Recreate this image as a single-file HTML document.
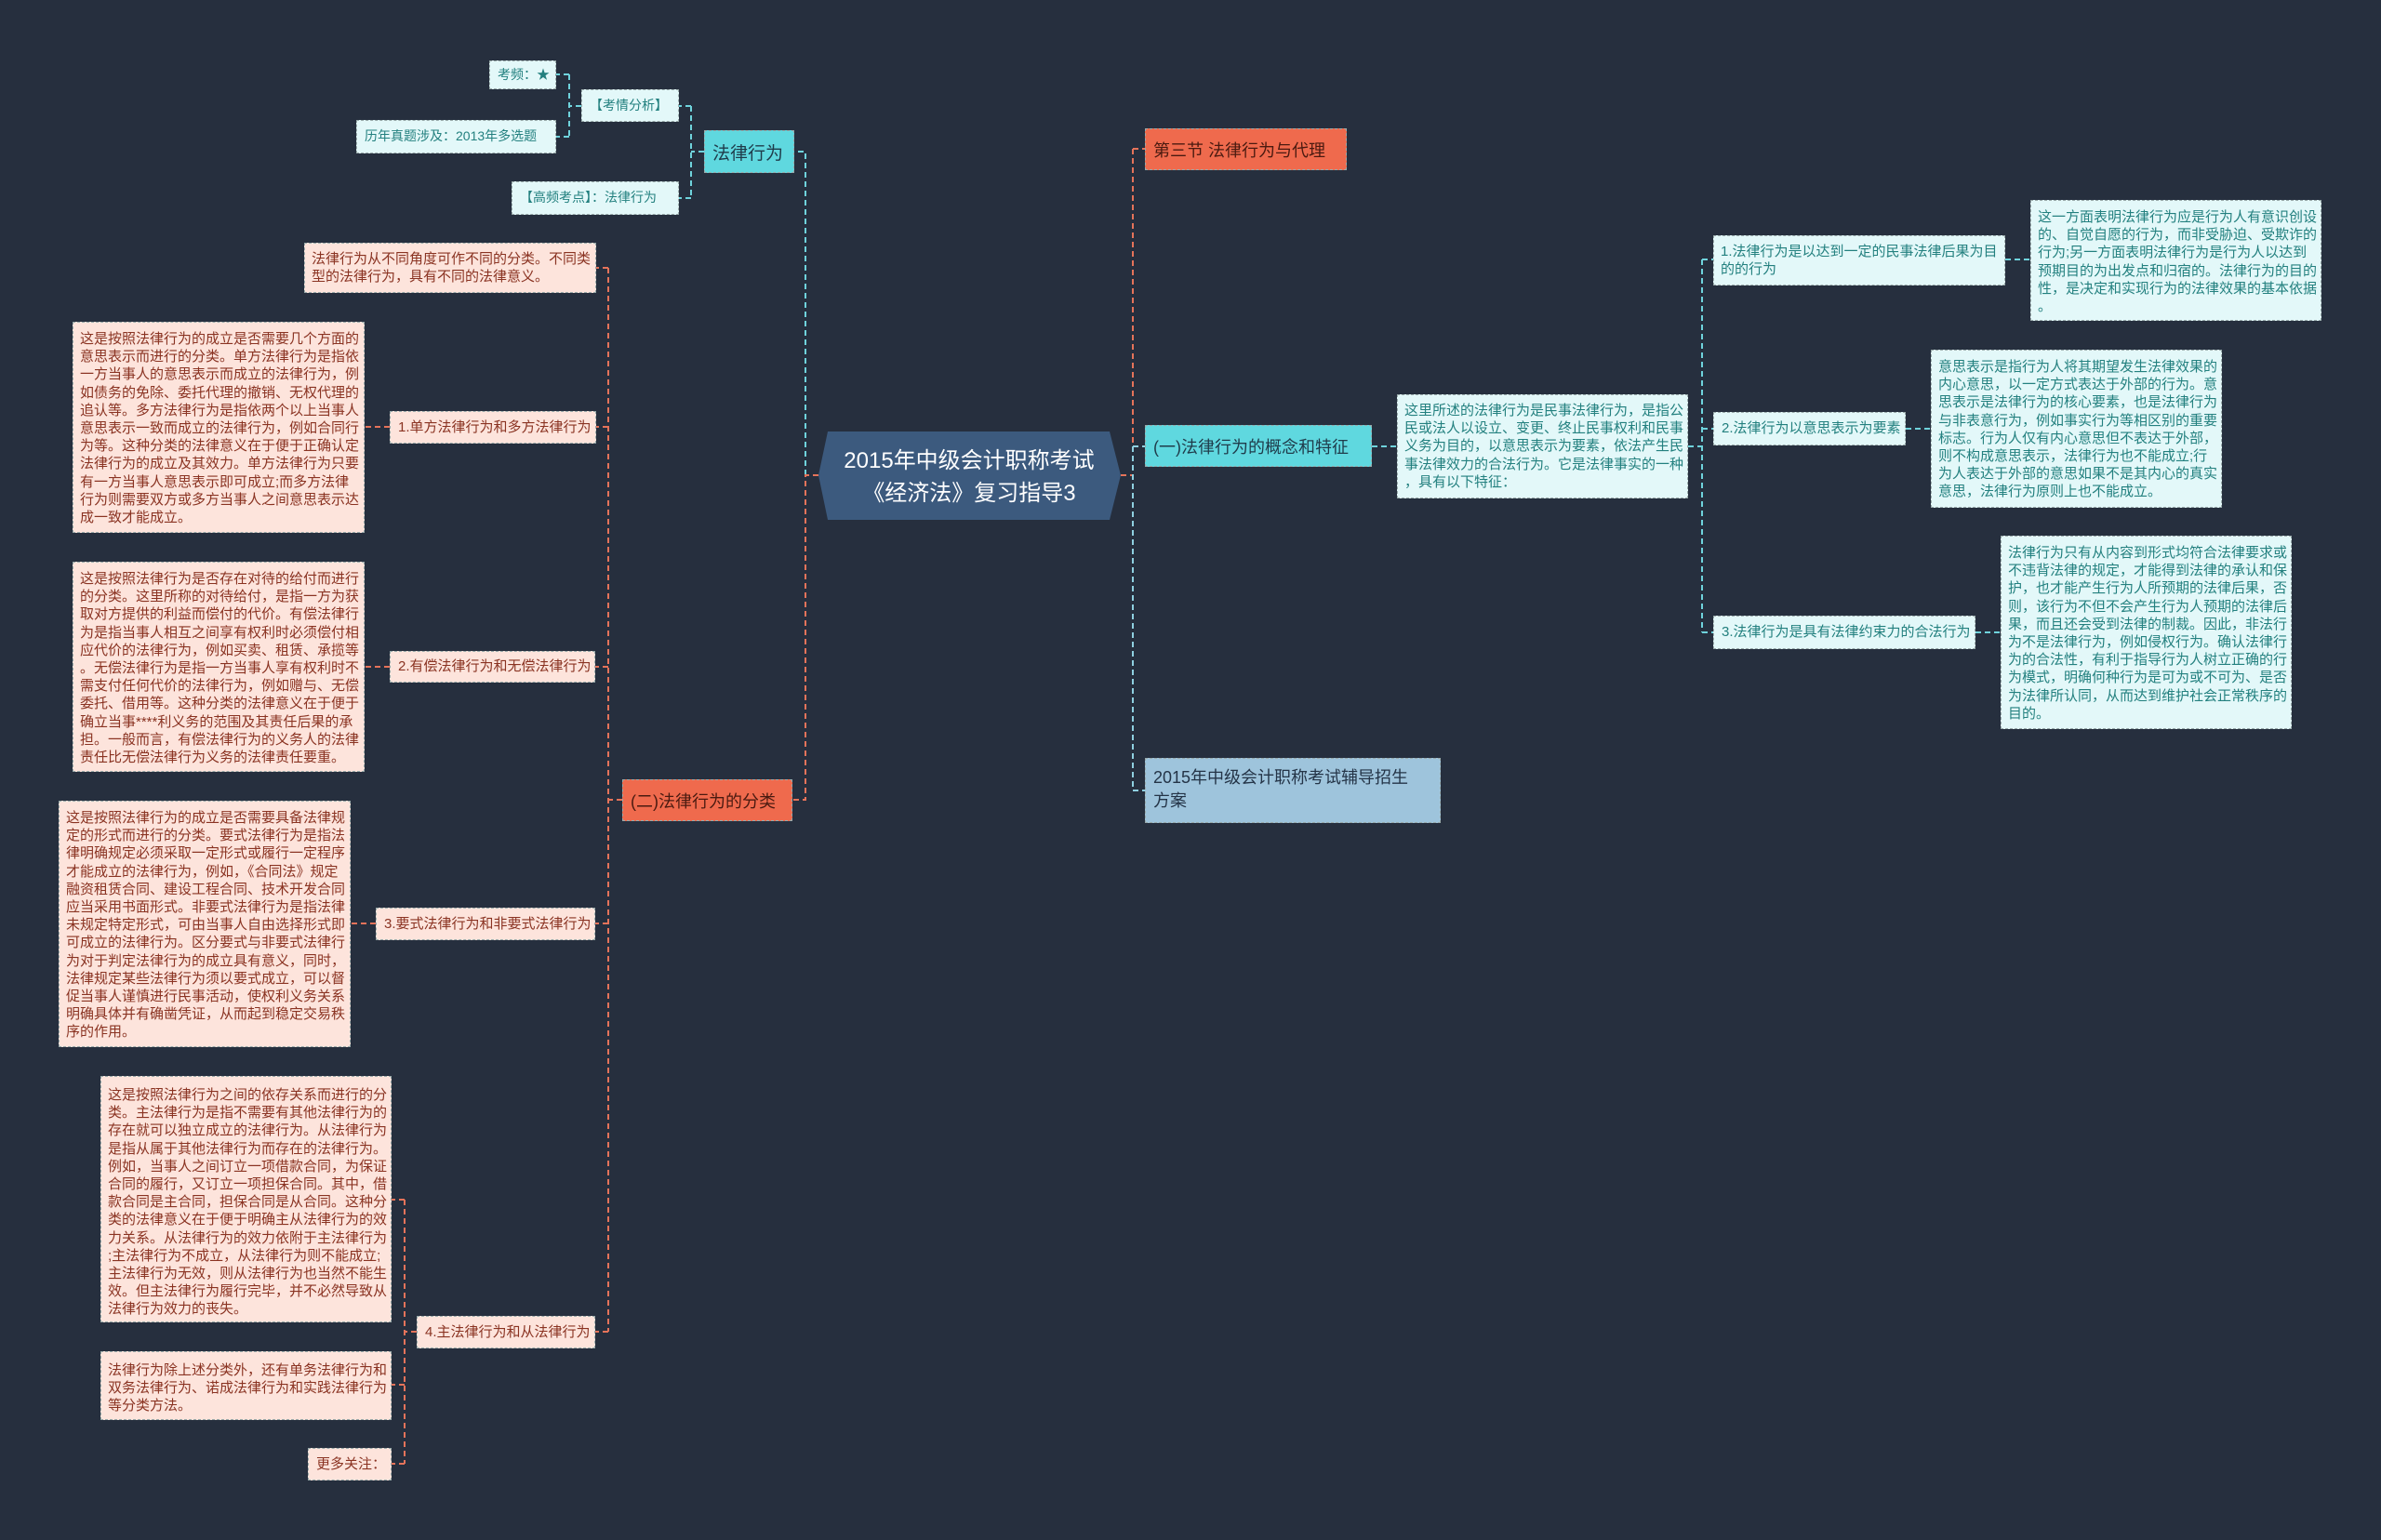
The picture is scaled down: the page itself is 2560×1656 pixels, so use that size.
<!DOCTYPE html>
<html><head><meta charset="utf-8"><style>
html,body{margin:0;padding:0;}
body{width:2560px;height:1656px;background:#262f3e;position:relative;overflow:hidden;font-family:"Liberation Sans","Noto Sans CJK SC",sans-serif;}
.b{position:absolute;box-sizing:border-box;border:1.5px dashed #9aa;white-space:nowrap;}
.p{background:#fde4dc;color:#8a3322;font-size:15px;line-height:19.2px;padding:8px 7px;}
.c{background:#e3f8f9;color:#23807f;font-size:15px;line-height:19.2px;padding:8px 7px;}
.t{display:flex;align-items:center;padding:0 8px;}
svg{position:absolute;left:0;top:0;}
</style></head><body>
<svg width="2560" height="1656">
<g fill="none" stroke-width="2" stroke-dasharray="6,4">
<path d="M880 511 H866 M866 511 V163 H854" stroke="#6fd3dc"/>
<path d="M757 163 H743 M743 114 V213 M743 114 H730 M743 213 H730" stroke="#6fd3dc"/>
<path d="M625 114 H612 M612 80 V147 M612 80 H598 M612 147 H598" stroke="#6fd3dc"/>
<path d="M880 511 H866 V860 H852" stroke="#e5735a"/>
<path d="M669 860 H654 M654 288 V1432 M654 288 H641 M654 459 H641 M654 717 H640 M654 993 H640 M654 1432 H640" stroke="#e5735a"/>
<path d="M419 459 H392 M419 717 H392 M404 993 H377" stroke="#e5735a"/>
<path d="M448 1432 H435 M435 1290 V1574 M435 1290 H421 M435 1489 H421 M435 1574 H421" stroke="#e5735a"/>
<path d="M1205 511 H1218 M1218 160 V480 M1218 160 H1231" stroke="#e5735a"/>
<path d="M1218 480 V850 H1231 M1218 480 H1231" stroke="#8fd0e0"/>
<path d="M1475 480 H1501 M1815 480 H1830 M1830 279 V680 M1830 279 H1842 M1830 461 H1842 M1830 680 H1842" stroke="#6fd3dc"/>
<path d="M2156 279 H2183 M2049 461 H2076 M2124 680 H2151" stroke="#6fd3dc"/>
</g>
<polygon points="890,464 1193,464 1205,511 1193,559 890,559 880,511" fill="#3c5a7e"/>
<text x="1042" y="503" fill="#fff" font-size="24" text-anchor="middle" font-family="Liberation Sans,Noto Sans CJK SC,sans-serif">2015年中级会计职称考试</text>
<text x="1042" y="538" fill="#fff" font-size="24" text-anchor="middle" font-family="Liberation Sans,Noto Sans CJK SC,sans-serif">《经济法》复习指导3</text>
</svg>

<div class="b c t" style="left:526px;top:65px;width:72px;height:31px;font-size:14px;">考频：★</div>
<div class="b c t" style="left:625px;top:96px;width:105px;height:35px;font-size:14px;">【考情分析】</div>
<div class="b c t" style="left:383px;top:129px;width:215px;height:36px;font-size:14px;">历年真题涉及：2013年多选题</div>
<div class="b t" style="left:757px;top:140px;width:97px;height:46px;background:#5fd8df;color:#1f3b4a;font-size:19px;">法律行为</div>
<div class="b c t" style="left:550px;top:195px;width:180px;height:36px;font-size:14px;">【高频考点】：法律行为</div>

<div class="b p" style="left:327px;top:261px;width:314px;height:54px;padding-top:7px;">法律行为从不同角度可作不同的分类。不同类<br>型的法律行为，具有不同的法律意义。</div>
<div class="b p" style="left:78px;top:346px;width:314px;height:227px;">这是按照法律行为的成立是否需要几个方面的<br>意思表示而进行的分类。单方法律行为是指依<br>一方当事人的意思表示而成立的法律行为，例<br>如债务的免除、委托代理的撤销、无权代理的<br>追认等。多方法律行为是指依两个以上当事人<br>意思表示一致而成立的法律行为，例如合同行<br>为等。这种分类的法律意义在于便于正确认定<br>法律行为的成立及其效力。单方法律行为只要<br>有一方当事人意思表示即可成立;而多方法律<br>行为则需要双方或多方当事人之间意思表示达<br>成一致才能成立。</div>
<div class="b p t" style="left:419px;top:442px;width:222px;height:35px;">1.单方法律行为和多方法律行为</div>
<div class="b p" style="left:78px;top:604px;width:314px;height:226px;">这是按照法律行为是否存在对待的给付而进行<br>的分类。这里所称的对待给付，是指一方为获<br>取对方提供的利益而偿付的代价。有偿法律行<br>为是指当事人相互之间享有权利时必须偿付相<br>应代价的法律行为，例如买卖、租赁、承揽等<br>。无偿法律行为是指一方当事人享有权利时不<br>需支付任何代价的法律行为，例如赠与、无偿<br>委托、借用等。这种分类的法律意义在于便于<br>确立当事****利义务的范围及其责任后果的承<br>担。一般而言，有偿法律行为的义务人的法律<br>责任比无偿法律行为义务的法律责任要重。</div>
<div class="b p t" style="left:419px;top:700px;width:221px;height:34px;">2.有偿法律行为和无偿法律行为</div>
<div class="b t" style="left:669px;top:838px;width:183px;height:45px;background:#ef6a4d;color:#4a1a10;font-size:18px;">(二)法律行为的分类</div>
<div class="b p" style="left:63px;top:861px;width:314px;height:265px;">这是按照法律行为的成立是否需要具备法律规<br>定的形式而进行的分类。要式法律行为是指法<br>律明确规定必须采取一定形式或履行一定程序<br>才能成立的法律行为，例如，《合同法》规定<br>融资租赁合同、建设工程合同、技术开发合同<br>应当采用书面形式。非要式法律行为是指法律<br>未规定特定形式，可由当事人自由选择形式即<br>可成立的法律行为。区分要式与非要式法律行<br>为对于判定法律行为的成立具有意义，同时，<br>法律规定某些法律行为须以要式成立，可以督<br>促当事人谨慎进行民事活动，使权利义务关系<br>明确具体并有确凿凭证，从而起到稳定交易秩<br>序的作用。</div>
<div class="b p t" style="left:404px;top:976px;width:236px;height:35px;">3.要式法律行为和非要式法律行为</div>
<div class="b p" style="left:108px;top:1157px;width:313px;height:265px;padding-top:10px;">这是按照法律行为之间的依存关系而进行的分<br>类。主法律行为是指不需要有其他法律行为的<br>存在就可以独立成立的法律行为。从法律行为<br>是指从属于其他法律行为而存在的法律行为。<br>例如，当事人之间订立一项借款合同，为保证<br>合同的履行，又订立一项担保合同。其中，借<br>款合同是主合同，担保合同是从合同。这种分<br>类的法律意义在于便于明确主从法律行为的效<br>力关系。从法律行为的效力依附于主法律行为<br>;主法律行为不成立，从法律行为则不能成立;<br>主法律行为无效，则从法律行为也当然不能生<br>效。但主法律行为履行完毕，并不必然导致从<br>法律行为效力的丧失。</div>
<div class="b p t" style="left:448px;top:1415px;width:192px;height:35px;">4.主法律行为和从法律行为</div>
<div class="b p" style="left:108px;top:1453px;width:313px;height:74px;padding-top:10px;">法律行为除上述分类外，还有单务法律行为和<br>双务法律行为、诺成法律行为和实践法律行为<br>等分类方法。</div>
<div class="b p t" style="left:331px;top:1557px;width:90px;height:35px;">更多关注：</div>

<div class="b t" style="left:1231px;top:138px;width:217px;height:45px;background:#ef6a4d;color:#4a1a10;font-size:18px;">第三节 法律行为与代理</div>
<div class="b t" style="left:1231px;top:457px;width:244px;height:45px;background:#5fd8df;color:#1f3b4a;font-size:18px;">(一)法律行为的概念和特征</div>
<div class="b" style="left:1231px;top:815px;width:318px;height:70px;background:#9ec4dc;color:#243447;font-size:18px;line-height:25px;padding:8px 8px;">2015年中级会计职称考试辅导招生<br>方案</div>
<div class="b c" style="left:1502px;top:424px;width:313px;height:112px;padding-top:7px;">这里所述的法律行为是民事法律行为，是指公<br>民或法人以设立、变更、终止民事权利和民事<br>义务为目的，以意思表示为要素，依法产生民<br>事法律效力的合法行为。它是法律事实的一种<br>，具有以下特征：</div>
<div class="b c" style="left:1842px;top:253px;width:314px;height:54px;padding-top:7px;">1.法律行为是以达到一定的民事法律后果为目<br>的的行为</div>
<div class="b c" style="left:2183px;top:215px;width:313px;height:130px;">这一方面表明法律行为应是行为人有意识创设<br>的、自觉自愿的行为，而非受胁迫、受欺诈的<br>行为;另一方面表明法律行为是行为人以达到<br>预期目的为出发点和归宿的。法律行为的目的<br>性，是决定和实现行为的法律效果的基本依据<br>。</div>
<div class="b c t" style="left:1842px;top:443px;width:207px;height:36px;">2.法律行为以意思表示为要素</div>
<div class="b c" style="left:2076px;top:376px;width:313px;height:170px;">意思表示是指行为人将其期望发生法律效果的<br>内心意思，以一定方式表达于外部的行为。意<br>思表示是法律行为的核心要素，也是法律行为<br>与非表意行为，例如事实行为等相区别的重要<br>标志。行为人仅有内心意思但不表达于外部，<br>则不构成意思表示，法律行为也不能成立;行<br>为人表达于外部的意思如果不是其内心的真实<br>意思，法律行为原则上也不能成立。</div>
<div class="b c t" style="left:1842px;top:662px;width:282px;height:36px;">3.法律行为是具有法律约束力的合法行为</div>
<div class="b c" style="left:2151px;top:576px;width:313px;height:208px;">法律行为只有从内容到形式均符合法律要求或<br>不违背法律的规定，才能得到法律的承认和保<br>护，也才能产生行为人所预期的法律后果，否<br>则，该行为不但不会产生行为人预期的法律后<br>果，而且还会受到法律的制裁。因此，非法行<br>为不是法律行为，例如侵权行为。确认法律行<br>为的合法性，有利于指导行为人树立正确的行<br>为模式，明确何种行为是可为或不可为、是否<br>为法律所认同，从而达到维护社会正常秩序的<br>目的。</div>
</body></html>
